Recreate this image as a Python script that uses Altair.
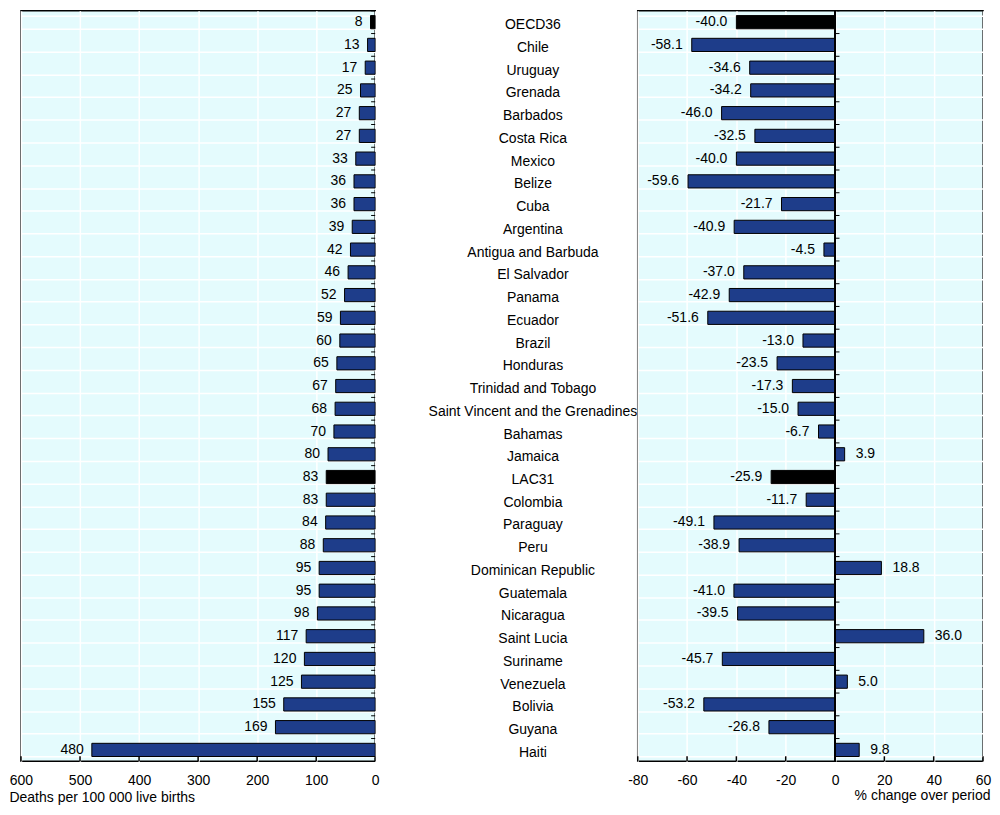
import altair as alt
import pandas as pd

countries = ["OECD36", "Chile", "Uruguay", "Grenada", "Barbados", "Costa Rica", "Mexico",
             "Belize", "Cuba", "Argentina", "Antigua and Barbuda", "El Salvador", "Panama",
             "Ecuador", "Brazil", "Honduras", "Trinidad and Tobago",
             "Saint Vincent and the Grenadines", "Bahamas", "Jamaica", "LAC31", "Colombia",
             "Paraguay", "Peru", "Dominican Republic", "Guatemala", "Nicaragua",
             "Saint Lucia", "Suriname", "Venezuela", "Bolivia", "Guyana", "Haiti"]
deaths = [8, 13, 17, 25, 27, 27, 33, 36, 36, 39, 42, 46, 52, 59, 60, 65, 67, 68, 70, 80,
          83, 83, 84, 88, 95, 95, 98, 117, 120, 125, 155, 169, 480]
change = [-40.0, -58.1, -34.6, -34.2, -46.0, -32.5, -40.0, -59.6, -21.7, -40.9, -4.5,
          -37.0, -42.9, -51.6, -13.0, -23.5, -17.3, -15.0, -6.7, 3.9, -25.9, -11.7, -49.1,
          -38.9, 18.8, -41.0, -39.5, 36.0, -45.7, 5.0, -53.2, -26.8, 9.8]
aggregates = ["OECD36", "LAC31"]
left_ticks = [0, 100, 200, 300, 400, 500, 600]
right_ticks = [-80, -60, -40, -20, 0, 20, 40, 60]

df = pd.DataFrame({"country": countries, "deaths": deaths, "change": change})
lt = pd.DataFrame({"v": left_ticks})
rt = pd.DataFrame({"v": right_ticks})

FONT = "Liberation Sans"
FS = 14
BG = "#e4fbfd"
BAR = "#1e3d8a"
H = 752
WL, WM, WR = 355, 263, 346
MINUS_FIX = "replace(datum.label, '\u2212', '-')"
PAD_OUT = 0.21
EDGE_OFF = -PAD_OUT * H / len(countries)  # from bar top to row boundary

yscale = alt.Scale(domain=countries, paddingInner=2 * PAD_OUT, paddingOuter=PAD_OUT)
ygrid = alt.Axis(labels=False, ticks=False, domain=False, grid=True, gridColor="white",
                 gridWidth=1.5, tickBand="extent", title=None)
color = alt.condition(alt.FieldOneOfPredicate(field="country", oneOf=aggregates),
                      alt.value("black"), alt.value(BAR))

# ---------- left panel ----------
lx = alt.Scale(domain=[0, 600], reverse=True)
base_l = alt.Chart(df)
bars_l = base_l.mark_bar(stroke="black", strokeWidth=1).encode(
    x=alt.X("deaths:Q", scale=lx,
            axis=alt.Axis(values=left_ticks, grid=True, gridColor="white", gridWidth=1.5,
                          ticks=False, domain=False, labelFont=FONT, labelFontSize=FS,
                          labelColor="black", labelPadding=12, labelFlush=False,
                          title="Deaths per 100 000 live births", titleFont=FONT,
                          titleFontSize=FS, titleFontWeight="normal", titleColor="black",
                          titleAnchor="start", titleAlign="left", titleX=-12, titlePadding=3)),
    y=alt.Y("country:N", scale=yscale, sort=countries, axis=ygrid),
    color=color,
)
text_l = base_l.mark_text(align="right", baseline="middle", dx=-8, font=FONT,
                          fontSize=FS, color="black").encode(
    x=alt.X("deaths:Q", scale=lx),
    y=alt.Y("country:N", scale=yscale, sort=countries),
    text=alt.Text("deaths:Q", format="d"),
)
yt_l = base_l.mark_rule(color="black", strokeWidth=1, yOffset=EDGE_OFF).encode(
    x=alt.datum(0, scale=lx), x2=alt.datum(7),
    y=alt.Y("country:N", scale=yscale, sort=countries, bandPosition=0),
)
xt_l = alt.Chart(lt).mark_rule(color="black", strokeWidth=1.5).encode(
    x=alt.X("v:Q", scale=lx), y=alt.value(H), y2=alt.value(H - 5),
)
left = alt.layer(bars_l, text_l, yt_l, xt_l).properties(
    width=WL, height=H,
    view=alt.ViewBackground(fill=BG, stroke="black", strokeWidth=1.5),
)

# ---------- middle labels ----------
mid = alt.Chart(df).mark_text(align="center", baseline="middle", dy=3, font=FONT,
                              fontSize=FS, color="black").encode(
    x=alt.value(158),
    y=alt.Y("country:N", scale=yscale, sort=countries, axis=None),
    text="country:N",
).properties(width=WM, height=H,
             view=alt.ViewBackground(fill="white", stroke="transparent"))

# ---------- right panel ----------
rx = alt.Scale(domain=[-80, 60], nice=False, zero=False)
base_r = alt.Chart(df).transform_calculate(
    lab="replace(format(datum.change, '.1f'), '\u2212', '-')")
bars_r = base_r.mark_bar(stroke="black", strokeWidth=1).encode(
    x=alt.X("change:Q", scale=rx,
            axis=alt.Axis(values=right_ticks, grid=True, gridColor="white", gridWidth=1.5,
                          ticks=False, domain=False, labelFont=FONT, labelFontSize=FS,
                          labelColor="black", labelPadding=12, labelExpr=MINUS_FIX,
                          labelFlush=False,
                          title="% change over period", titleFont=FONT,
                          titleFontSize=FS, titleFontWeight="normal", titleColor="black",
                          titleAnchor="end", titleAlign="right", titleX=WR + 7,
                          titlePadding=1)),
    y=alt.Y("country:N", scale=yscale, sort=countries, axis=ygrid),
    color=color,
)
text_neg = base_r.transform_filter("datum.change < 0").mark_text(
    align="right", baseline="middle", dx=-9, font=FONT, fontSize=FS, color="black").encode(
    x=alt.X("change:Q", scale=rx),
    y=alt.Y("country:N", scale=yscale, sort=countries),
    text="lab:N",
)
text_pos = base_r.transform_filter("datum.change >= 0").mark_text(
    align="left", baseline="middle", dx=11, font=FONT, fontSize=FS, color="black").encode(
    x=alt.X("change:Q", scale=rx),
    y=alt.Y("country:N", scale=yscale, sort=countries),
    text="lab:N",
)
yt_r = base_r.mark_rule(color="black", strokeWidth=1, yOffset=EDGE_OFF).encode(
    x=alt.datum(0, scale=rx), x2=alt.datum(1.8),
    y=alt.Y("country:N", scale=yscale, sort=countries, bandPosition=0),
)
zero_r = base_r.mark_rule(color="black", strokeWidth=1).encode(
    x=alt.datum(0, scale=rx), y=alt.value(0), y2=alt.value(H),
)
xt_r = alt.Chart(rt).mark_rule(color="black", strokeWidth=1.5).encode(
    x=alt.X("v:Q", scale=rx), y=alt.value(H), y2=alt.value(H - 5),
)
right = alt.layer(bars_r, zero_r, text_neg, text_pos, yt_r, xt_r).properties(
    width=WR, height=H,
    view=alt.ViewBackground(fill=BG, stroke="black", strokeWidth=1.5),
)

chart = alt.hconcat(left, mid, right, spacing=0, bounds="flush").resolve_scale(
    y="shared").configure_view(stroke="transparent").configure(padding=0)

chart.save("out.html", embed_options={"renderer": "svg", "actions": False})
